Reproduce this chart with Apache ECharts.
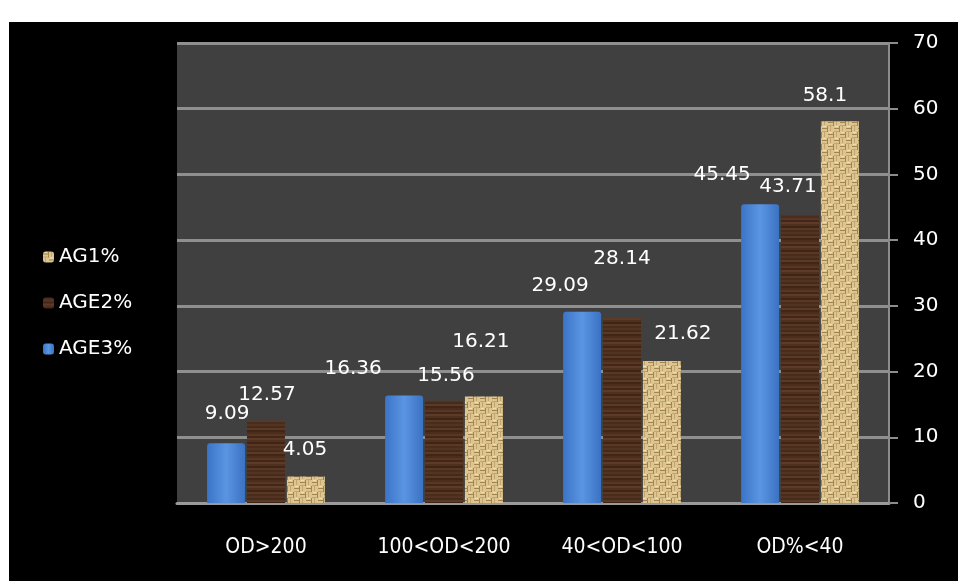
<!DOCTYPE html>
<html>
<head>
<meta charset="utf-8">
<script src="https://cdn.jsdelivr.net/npm/echarts@6/dist/echarts.min.js"></script>
<style>
html,body{margin:0;padding:0;background:#fff;}
#chart{width:958px;height:581px;}
</style>
</head>
<body>
<div id="chart"></div>
<script>
// ---- data ----
const categories = ['OD>200', '100<OD<200', '40<OD<100', 'OD%<40'];
const seriesNames = ['AGE3%', 'AGE2%', 'AG1%'];
const age3 = [9.09, 16.36, 29.09, 45.45];
const age2 = [12.57, 15.56, 28.14, 43.71];
const ag1 = [4.05, 16.21, 21.62, 58.1];
const legendOrder = ['AG1%', 'AGE2%', 'AGE3%'];
const yMin = 0, yMax = 70, yStep = 10;

// ---- label nudges (style only) ----
const shift3 = [[1, -4], [-51, -2], [-22, -1], [-38, -5]];
const shift2 = [[1, -1], [2, 0], [0, -34], [-12, -4]];
const shift1 = [[-1, -2], [-3, -30], [21, -2], [-15, 0]];

// ---- textures ----
function makeCanvas(w, h) { const c = document.createElement('canvas'); c.width = w; c.height = h; return c; }
function woodPattern() {
  const c = makeCanvas(16, 24); const g = c.getContext('2d');
  const rows = ['#4b2d1d','#573623','#43281a','#5e3b27','#4f301f','#3f2517','#593824','#4a2c1c','#533322','#462a1b','#5b3a25','#412618'];
  rows.forEach((col, i) => { g.fillStyle = col; g.fillRect(0, i * 2, 16, 2); });
  return c;
}
function burlapPattern() {
  const c = makeCanvas(12, 12); const g = c.getContext('2d');
  g.fillStyle = '#dcc590'; g.fillRect(0, 0, 12, 12);
  g.fillStyle = '#a5834c';
  g.fillRect(0, 2, 6, 1); g.fillRect(6, 8, 6, 1);
  g.fillRect(5, 0, 1, 6); g.fillRect(11, 6, 1, 6);
  g.fillStyle = '#c4a56c';
  g.fillRect(0, 5, 5, 1); g.fillRect(6, 11, 5, 1);
  g.fillRect(2, 6, 1, 5); g.fillRect(8, 0, 1, 5);
  g.fillStyle = '#efe0b4';
  g.fillRect(1, 0, 3, 1); g.fillRect(7, 6, 3, 1);
  return c;
}
const blueFill = new echarts.graphic.LinearGradient(0, 0, 1, 0, [
  { offset: 0, color: '#3b74c6' }, { offset: 0.5, color: '#5a95e2' }, { offset: 1, color: '#3b72c2' }
]);
const woodFill = { image: woodPattern(), repeat: 'repeat' };
const burlapFill = { image: burlapPattern(), repeat: 'repeat' };

function withLabels(values, shifts) {
  return values.map((v, i) => ({ value: v, label: { offset: shifts[i] } }));
}

const labelStyle = { show: true, position: 'top', distance: 15, color: '#fff', fontFamily: 'DejaVu Sans', fontSize: 20 };

const chart = echarts.init(document.getElementById('chart'), null, { renderer: 'canvas' });
chart.setOption({
  backgroundColor: '#ffffff',
  animation: false,
  graphic: [{ type: 'rect', z: -100, shape: { x: 9, y: 22, width: 949, height: 559 }, style: { fill: '#000' } }],
  legend: {
    orient: 'vertical', left: 38, top: 242, itemGap: 26, itemWidth: 11, itemHeight: 11,
    data: legendOrder,
    textStyle: { color: '#fff', fontFamily: 'DejaVu Sans', fontSize: 20 }
  },
  grid: { left: 177, right: 69, top: 43, bottom: 78, show: true, backgroundColor: '#404040', borderWidth: 0 },
  xAxis: {
    type: 'category', data: categories,
    axisLine: { lineStyle: { color: '#9a9a9a', width: 3 } },
    axisTick: { length: 10, lineStyle: { color: '#9a9a9a', width: 2 } },
    axisLabel: { color: '#fff', fontFamily: 'DejaVu Sans Condensed', fontSize: 21, margin: 34 }
  },
  yAxis: {
    type: 'value', position: 'right', min: yMin, max: yMax, interval: yStep,
    axisLine: { show: true, lineStyle: { color: '#8c8c8c', width: 2 } },
    axisTick: { show: true, length: 9, lineStyle: { color: '#8c8c8c', width: 2 } },
    splitLine: { lineStyle: { color: '#8f8f8f', width: 3 } },
    axisLabel: { color: '#fff', fontFamily: 'DejaVu Sans', fontSize: 20, margin: 24 }
  },
  series: [
    { name: seriesNames[0], type: 'bar', barWidth: 38, barGap: '5%', data: withLabels(age3, shift3), itemStyle: { color: blueFill, borderRadius: [3, 3, 0, 0] }, label: labelStyle },
    { name: seriesNames[1], type: 'bar', barWidth: 38, barGap: '5%', data: withLabels(age2, shift2), itemStyle: { color: woodFill }, label: labelStyle },
    { name: seriesNames[2], type: 'bar', barWidth: 38, barGap: '5%', data: withLabels(ag1, shift1), itemStyle: { color: burlapFill }, label: labelStyle }
  ]
});
</script>
</body>
</html>
